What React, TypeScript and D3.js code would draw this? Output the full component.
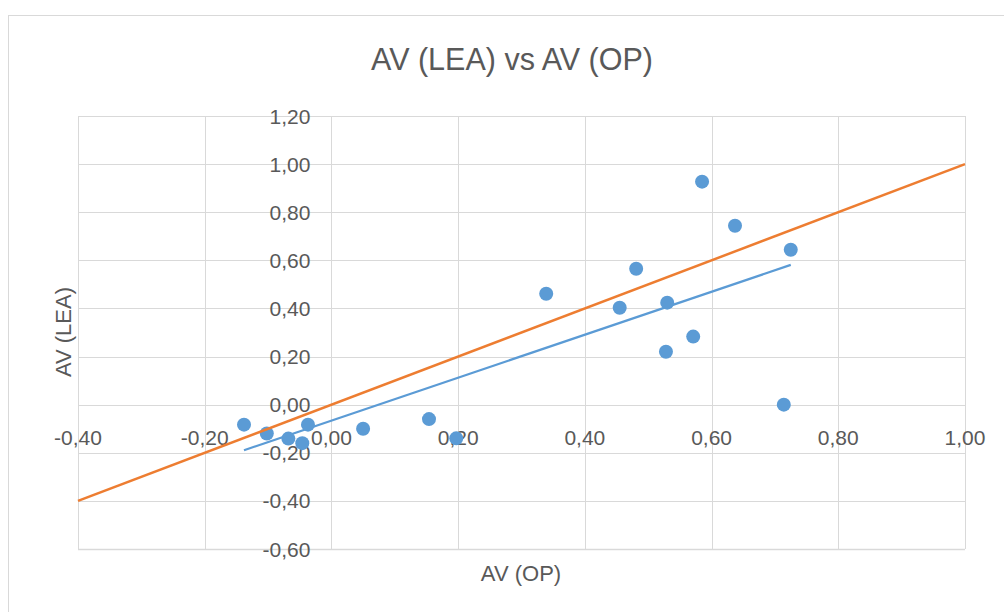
import React from "react";
import * as d3 from "d3";

// Observed AV values: OP (x) against LEA (y)
const avOP = [-0.138, -0.102, -0.068, -0.046, -0.037, 0.05, 0.154, 0.197, 0.339, 0.455, 0.481, 0.53, 0.528, 0.571, 0.585, 0.637, 0.725, 0.714];
const avLEA = [-0.083, -0.12, -0.141, -0.16, -0.083, -0.1, -0.06, -0.14, 0.461, 0.403, 0.565, 0.424, 0.22, 0.283, 0.927, 0.744, 0.644, 0.0];

// Identity reference line y = x
const identityX = [-0.4, 1.0];

const xTicks = [-0.4, -0.2, 0, 0.2, 0.4, 0.6, 0.8, 1.0];
const yTicks = [-0.6, -0.4, -0.2, 0, 0.2, 0.4, 0.6, 0.8, 1.0, 1.2];

const W = 1004;
const H = 612;
const M = { left: 78, right: 965, top: 116, bottom: 549 };

const locale = d3.formatLocale({ decimal: ",", thousands: ".", grouping: [3], currency: ["", "€"], minus: "-" });
const fmt = locale.format(".2f");

const FONT = "'Liberation Sans', Arial, sans-serif";
const TEXT = "#595959";
const GRID = "#d9d9d9";
const BLUE = "#5B9BD5";
const ORANGE = "#ED7D31";

function linearFit(xs: number[], ys: number[]) {
  const n = xs.length;
  const mx = d3.mean(xs) as number;
  const my = d3.mean(ys) as number;
  let sxy = 0;
  let sxx = 0;
  for (let i = 0; i < n; i++) {
    sxy += (xs[i] - mx) * (ys[i] - my);
    sxx += (xs[i] - mx) ** 2;
  }
  const slope = sxy / sxx;
  return { slope, intercept: my - slope * mx };
}

export default function App() {
  const x = d3.scaleLinear().domain([-0.4, 1.0]).range([M.left, M.right]);
  const y = d3.scaleLinear().domain([-0.6, 1.2]).range([M.bottom, M.top]);

  const fit = linearFit(avOP, avLEA);
  const [x0, x1] = d3.extent(avOP) as [number, number];
  const line = d3
    .line<[number, number]>()
    .x((d) => x(d[0]))
    .y((d) => y(d[1]));

  const trend: [number, number][] = [x0, x1].map((v) => [v, fit.intercept + fit.slope * v]);
  const identity: [number, number][] = identityX.map((v) => [v, v]);

  return (
    <svg width={W} height={H} style={{ position: "absolute", left: 0, top: 0, background: "#fff" }}>
      <rect x={8.5} y={15.5} width={W} height={H} fill="#fff" stroke={GRID} strokeWidth={1} />

      <text x={512} y={70} textAnchor="middle" fontFamily={FONT} fontSize={30.5} fill={TEXT}>
        AV (LEA) vs AV (OP)
      </text>

      {/* grid */}
      {xTicks.map((t) => (
        <line key={"gx" + t} x1={Math.round(x(t)) + 0.5} x2={Math.round(x(t)) + 0.5} y1={M.top} y2={M.bottom} stroke={GRID} strokeWidth={1} />
      ))}
      {yTicks.map((t) => (
        <line key={"gy" + t} x1={M.left} x2={M.right} y1={Math.round(y(t)) + 0.5} y2={Math.round(y(t)) + 0.5} stroke={GRID} strokeWidth={t === -0.6 ? 1.5 : 1} />
      ))}

      {/* tick labels: y labels sit left of the x = 0 axis, x labels below y = 0 */}
      {yTicks.map((t) => (
        <text key={"ly" + t} x={x(0) - 21} y={y(t) + 7.5} textAnchor="end" fontFamily={FONT} fontSize={21} fill={TEXT}>
          {fmt(t)}
        </text>
      ))}
      {xTicks.map((t) => (
        <text key={"lx" + t} x={x(t)} y={y(0) + 40} textAnchor="middle" fontFamily={FONT} fontSize={21} fill={TEXT}>
          {fmt(t)}
        </text>
      ))}

      {/* axis titles */}
      <text x={521} y={581} textAnchor="middle" fontFamily={FONT} fontSize={22} fill={TEXT}>
        AV (OP)
      </text>
      <text transform="translate(71,332) rotate(-90)" textAnchor="middle" fontFamily={FONT} fontSize={22} fill={TEXT}>
        AV (LEA)
      </text>

      {/* linear trendline */}
      <path d={line(trend) ?? ""} fill="none" stroke={BLUE} strokeWidth={2.25} />

      {/* observations */}
      {avOP.map((v, i) => (
        <circle key={"p" + i} cx={x(v)} cy={y(avLEA[i])} r={7} fill={BLUE} />
      ))}

      {/* identity line */}
      <path d={line(identity) ?? ""} fill="none" stroke={ORANGE} strokeWidth={2.5} />
    </svg>
  );
}
